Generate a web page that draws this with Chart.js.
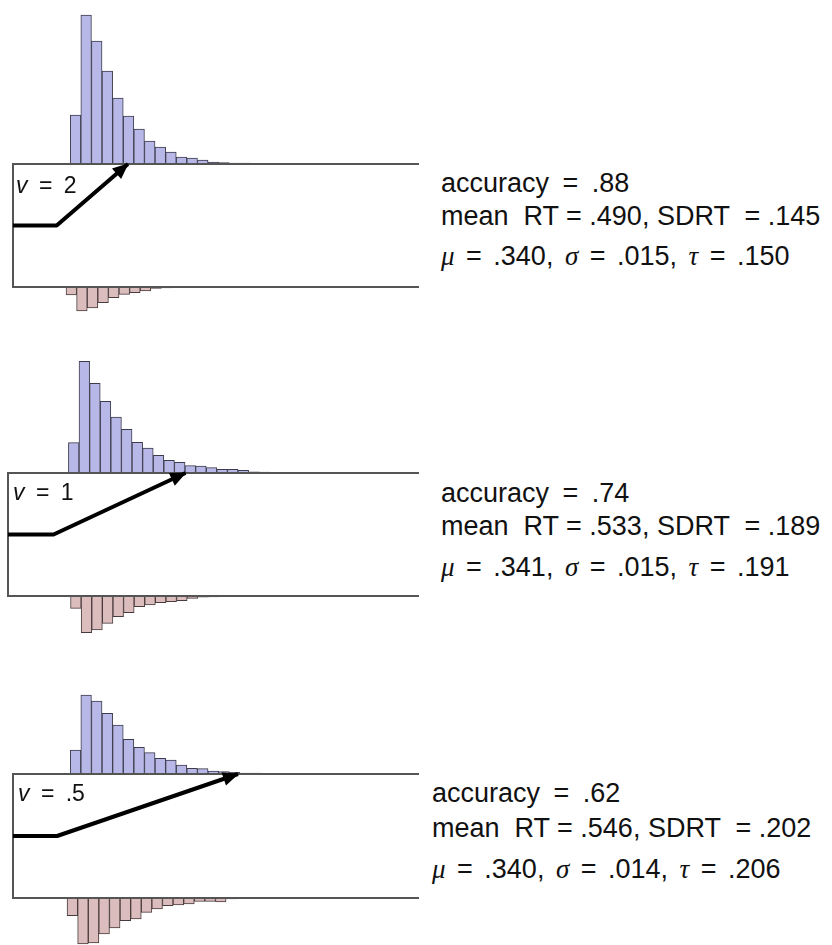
<!DOCTYPE html>
<html><head><meta charset="utf-8">
<script src="https://cdn.jsdelivr.net/npm/chart.js@4/dist/chart.umd.min.js"></script>
<style>
html,body{margin:0;padding:0;background:#fff;width:832px;height:945px;overflow:hidden;}
#root{position:relative;width:832px;height:945px;}
canvas{position:absolute;display:block;}
.t{position:absolute;font-family:"Liberation Sans",Arial,sans-serif;color:#111;white-space:pre;}
.g{font-family:"Liberation Serif","Times New Roman",serif;font-style:italic;}
</style></head><body>
<div id="root"></div>
<script>
// ================= DATA =================
const driftLabels = ['2', '1', '.5'];          // drift rate v per condition
const binWidth = 0.05;                          // RT bin width (s)
const correctStart = [0.27, 0.285, 0.27];       // first correct-RT bin (s)
const errorStart = [0.25, 0.295, 0.255];        // first error-RT bin (s)
const correctCounts1 = [49, 149, 123, 93, 66, 48, 35, 23, 17, 12, 7, 6, 4, 2, 1.5, 1, 0.8, 0.6, 0.5, 0.4, 0.3];
const errorCounts1   = [8, 24, 21, 15.7, 10.7, 7.3, 5.7, 4, 1.5, 1, 0.7, 0.5, 0.3];
const correctCounts2 = [30.3, 111.7, 89.7, 71.7, 56, 43.7, 30.7, 25, 17.7, 12.7, 10.7, 7.3, 7, 5.3, 3.7, 3.7, 2.7, 1.2, 0.9, 0.7, 0.6, 0.5, 0.4, 0.3, 0.3, 0.2];
const errorCounts2   = [12.3, 36.7, 34, 27.3, 20.7, 16.7, 10.7, 9, 6.7, 5.7, 4.7, 2.3, 1.2, 0.8, 0.6, 0.4, 0.3];
const correctCounts3 = [24, 79, 73, 60.7, 49, 34.7, 26.7, 21.3, 15.7, 14, 9, 5.7, 5.3, 3, 2.3, 1.7, 1, 0.8, 0.6, 0.5, 0.4, 0.3, 0.3, 0.2, 0.2];
const errorCounts3   = [17.7, 46, 45, 36, 30, 22.7, 21, 14.3, 11, 7.7, 7, 6, 3.3, 3.3, 4, 1, 0.7, 0.5, 0.4, 0.3];
const startPoint  = [0.5, 0.5, 0.5];            // relative starting point z/a
const nonDecision = [0.206, 0.215, 0.208];      // s, flat part of path
const boundaryHit = [0.542, 0.837, 1.061];      // s, where path reaches upper boundary
const accuracy = ['.88', '.74', '.62'];
const meanRT   = ['.490', '.533', '.546'];
const sdRT     = ['.145', '.189', '.202'];
const muVals   = ['.340', '.341', '.340'];
const sigmaVals= ['.015', '.015', '.014'];
const tauVals  = ['.150', '.191', '.206'];

const correctCounts = [correctCounts1, correctCounts2, correctCounts3];
const errorCounts = [errorCounts1, errorCounts2, errorCounts3];

// ================= LAYOUT =================
const PX_PER_SEC = 212;
const TOP_H = 152, BOT_H = 50;
const panels = [
  {left: 13, right: 419, boxTop: 164, boxBottom: 287, labelX: 16, labelBase: 193.3, textX: 441, textBase: [193.3, 225.7, 266]},
  {left: 8,  right: 419, boxTop: 473, boxBottom: 596, labelX: 13, labelBase: 500,   textX: 441, textBase: [503.3, 535.7, 576.7]},
  {left: 13, right: 419, boxTop: 774, boxBottom: 898, labelX: 18, labelBase: 801.7, textX: 432, textBase: [803.3, 838.3, 879]}
];
const TEXT_F = 27, LABEL_F = 23;

const root = document.getElementById('root');
function mkCanvas(l, t, w, h) {
  const c = document.createElement('canvas');
  c.width = w; c.height = h;
  c.style.left = l + 'px'; c.style.top = t + 'px';
  c.style.width = w + 'px'; c.style.height = h + 'px';
  root.appendChild(c);
  return c;
}
function mkText(html, x, base, f, ws) {
  const d = document.createElement('div');
  d.className = 't';
  d.style.fontSize = f + 'px';
  d.style.lineHeight = f + 'px';
  d.style.left = x + 'px';
  d.style.top = (base - 0.8465 * f) + 'px';
  d.style.wordSpacing = (ws || 0) + 'px';
  d.innerHTML = html;
  root.appendChild(d);
}

const baseOpts = () => ({
  responsive: false, animation: false, devicePixelRatio: 1,
  layout: {padding: 0},
  plugins: {legend: {display: false}, tooltip: {enabled: false}},
  events: []
});

function histChart(canvas, counts, start, xmax, ymax, reverse, fill, edge) {
  return new Chart(canvas, {
    type: 'bar',
    data: {datasets: [{
      data: counts.map((c, i) => ({x: start + (i + 0.5) * binWidth, y: c})),
      backgroundColor: fill, borderColor: edge, borderWidth: 1,
      barPercentage: 1, categoryPercentage: 1
    }]},
    options: Object.assign(baseOpts(), {
      scales: {
        x: {type: 'linear', min: 0, max: xmax, display: false, offset: false, grid: {offset: false}, ticks: {stepSize: 0.5}},
        y: {type: 'linear', min: 0, max: ymax, display: false, reverse: reverse}
      }
    })
  });
}

const boxPlugin = {
  id: 'boxPlugin',
  beforeDatasetsDraw(chart) {
    const a = chart.chartArea, ctx = chart.ctx;
    ctx.save();
    ctx.strokeStyle = '#555';
    ctx.lineWidth = 2;
    ctx.beginPath();
    ctx.moveTo(a.right, a.top); ctx.lineTo(a.left, a.top);
    ctx.lineTo(a.left, a.bottom); ctx.lineTo(a.right, a.bottom);
    ctx.stroke();
    ctx.restore();
  },
  afterDatasetsDraw(chart) {
    const pts = chart.getDatasetMeta(0).data;
    const p1 = pts[pts.length - 2], p2 = pts[pts.length - 1];
    const ang = Math.atan2(p2.y - p1.y, p2.x - p1.x);
    const L = 15, W = 7;
    const ctx = chart.ctx;
    ctx.save();
    ctx.fillStyle = '#000';
    ctx.translate(p2.x, p2.y);
    ctx.rotate(ang);
    ctx.beginPath();
    ctx.moveTo(1, 0); ctx.lineTo(-L, -W); ctx.lineTo(-L, W); ctx.closePath();
    ctx.fill();
    ctx.restore();
  }
};

panels.forEach((p, k) => {
  const w = p.right - p.left;
  const xmax = w / PX_PER_SEC;
  // correct responses (upper boundary)
  histChart(mkCanvas(p.left, p.boxTop - TOP_H, w, TOP_H), correctCounts[k], correctStart[k], xmax, TOP_H, false, '#b8b8e8', '#3c3c4c');
  // error responses (lower boundary)
  histChart(mkCanvas(p.left, p.boxBottom, w, BOT_H), errorCounts[k], errorStart[k], xmax, BOT_H, true, '#dbbdbd', '#4a3c3c');
  // diffusion box and drift path
  const bh = p.boxBottom - p.boxTop;
  const z = startPoint[k];
  new Chart(mkCanvas(p.left - 4, p.boxTop - 4, w + 4, bh + 8), {
    type: 'line',
    data: {datasets: [{
      data: [{x: 0, y: z}, {x: nonDecision[k], y: z}, {x: boundaryHit[k], y: 1}],
      borderColor: '#000', borderWidth: 4, pointRadius: 0, tension: 0, clip: false,
      borderJoinStyle: 'round'
    }]},
    options: Object.assign(baseOpts(), {
      layout: {padding: {left: 4, top: 4, bottom: 4, right: 0}},
      scales: {
        x: {type: 'linear', min: 0, max: xmax, display: false},
        y: {type: 'linear', min: 0, max: 1, display: false}
      }
    }),
    plugins: [boxPlugin]
  });
  mkText('<i>v</i> = ' + driftLabels[k], p.labelX, p.labelBase, LABEL_F, 5);
  mkText('accuracy = ' + accuracy[k], p.textX, p.textBase[0], TEXT_F, 6);
  mkText('mean  RT = ' + meanRT[k] + ', SDRT  = ' + sdRT[k], p.textX, p.textBase[1], TEXT_F, 0);
  mkText('<span class="g">\u03bc</span> = ' + muVals[k] + ', <span class="g">\u03c3</span> = ' + sigmaVals[k] + ', <span class="g">\u03c4</span> = ' + tauVals[k], p.textX, p.textBase[2], TEXT_F, 4);
});
</script>
</body></html>
